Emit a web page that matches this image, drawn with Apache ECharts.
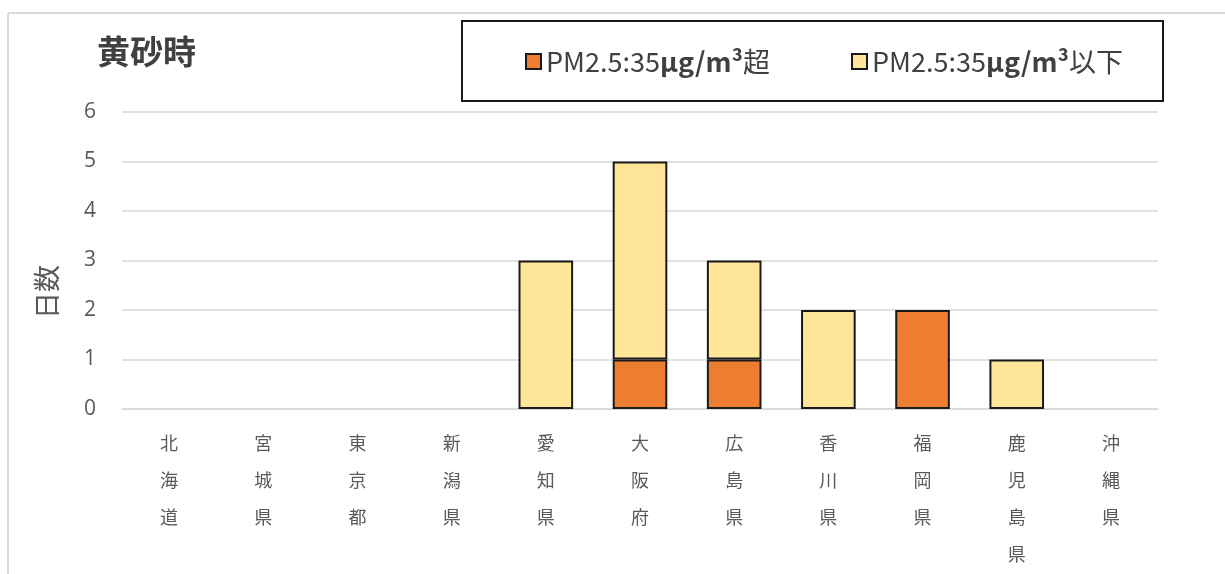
<!DOCTYPE html>
<html>
<head>
<meta charset="utf-8">
<script src="https://cdn.jsdelivr.net/npm/echarts@6/dist/echarts.min.js"></script>
<style>
  html, body { margin: 0; padding: 0; background: #fff; }
  #chart { width: 1225px; height: 574px; }
</style>
</head>
<body>
<div id="chart"></div>
<script>
// 都道府県別 黄砂時の日数
const categories = ['北海道', '宮城県', '東京都', '新潟県', '愛知県', '大阪府', '広島県', '香川県', '福岡県', '鹿児島県', '沖縄県'];
const overDays = [0, 0, 0, 0, 0, 1, 1, 0, 2, 0, 0];   // PM2.5:35μg/m³超
const underDays = [0, 0, 0, 0, 3, 4, 2, 2, 0, 1, 0];  // PM2.5:35μg/m³以下
const yTicks = [0, 1, 2, 3, 4, 5, 6];
const seriesNames = ['PM2.5:35μg/m³超', 'PM2.5:35μg/m³以下'];

const FONT = '"Noto Sans CJK JP", "Noto Sans", sans-serif';
const toBar = v => (v === 0 ? '-' : v);

const chart = echarts.init(document.getElementById('chart'), null, { renderer: 'canvas' });

const legendText = {
  fontSize: 27,
  color: '#404040',
  fontFamily: FONT,
  rich: {
    u: { fontSize: 27, fontWeight: 'bold', color: '#404040', fontFamily: FONT }
  }
};
const legendFormatter = name => {
  const m = name.match(/^(.*?)(μg\/m³)(.*)$/);
  return m ? m[1] + '{u|' + m[2] + '}' + m[3] : name;
};

chart.setOption({
  animation: false,
  backgroundColor: '#ffffff',
  title: {
    text: '黄砂時',
    left: 92,
    top: 30,
    textStyle: { fontSize: 33, fontWeight: 'bold', color: '#404040', fontFamily: FONT }
  },
  legend: [
    {
      data: [seriesNames[0]],
      left: 520, top: 43,
      itemWidth: 15, itemHeight: 15, itemGap: 8,
      icon: 'rect',
      textStyle: legendText,
      formatter: legendFormatter
    },
    {
      data: [seriesNames[1]],
      left: 846, top: 43,
      itemWidth: 15, itemHeight: 15, itemGap: 8,
      icon: 'rect',
      textStyle: legendText,
      formatter: legendFormatter
    }
  ],
  grid: { left: 122, right: 67, top: 112, bottom: 165, containLabel: false },
  xAxis: {
    type: 'category',
    data: categories,
    axisLine: { show: true, lineStyle: { color: '#d9d9d9', width: 1.5 } },
    axisTick: { show: false },
    axisLabel: {
      interval: 0,
      margin: 16,
      fontSize: 18,
      lineHeight: 37,
      color: '#595959',
      fontFamily: FONT,
      formatter: v => v.split('').join('\n')
    }
  },
  yAxis: {
    type: 'value',
    min: yTicks[0],
    max: yTicks[yTicks.length - 1],
    interval: 1,
    axisLine: { show: false },
    axisTick: { show: false },
    axisLabel: { fontSize: 21, color: '#595959', margin: 26, fontFamily: '"Open Sans", "Noto Sans", sans-serif' },
    splitLine: { lineStyle: { color: '#d9d9d9', width: 1.5 } }
  },
  graphic: [
    // outer chart frame (top and left edges)
    { type: 'line', shape: { x1: 8, y1: 13, x2: 1225, y2: 13 }, style: { stroke: '#d9d9d9', lineWidth: 2 } },
    { type: 'line', shape: { x1: 8, y1: 13, x2: 8, y2: 574 }, style: { stroke: '#d9d9d9', lineWidth: 2 } },
    // legend frame
    { type: 'rect', shape: { x: 462, y: 21, width: 701, height: 80 }, style: { fill: 'none', stroke: '#1a1a1a', lineWidth: 2 }, z: 10 },
    // y-axis title
    {
      type: 'text',
      x: 47, y: 292,
      rotation: Math.PI / 2,
      style: { text: '日数', fontSize: 27, fill: '#595959', fontFamily: FONT, align: 'center', verticalAlign: 'middle' }
    }
  ],
  series: [
    {
      name: seriesNames[0],
      type: 'bar',
      stack: 'days',
      barWidth: '58%',
      data: overDays.map(toBar),
      itemStyle: { color: '#ED7D31', borderColor: '#1a1a1a', borderWidth: 2 }
    },
    {
      name: seriesNames[1],
      type: 'bar',
      stack: 'days',
      barWidth: '58%',
      data: underDays.map(toBar),
      itemStyle: { color: '#FFE699', borderColor: '#1a1a1a', borderWidth: 2 }
    }
  ]
});
</script>
</body>
</html>
